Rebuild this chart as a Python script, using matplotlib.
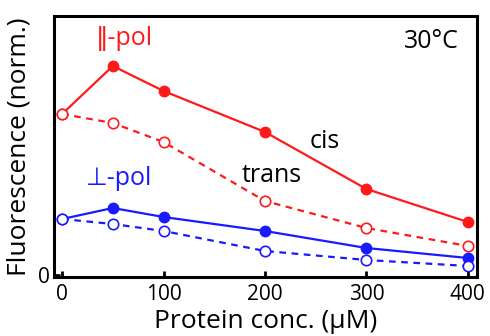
import matplotlib
matplotlib.use("Agg")
import matplotlib.pyplot as plt

plt.rcParams['font.family'] = ['Open Sans', 'DejaVu Sans']

conc = [0, 50, 100, 200, 300, 400]
par_cis = [1.61, 2.09, 1.84, 1.43, 0.86, 0.53]
par_trans = [1.61, 1.52, 1.33, 0.74, 0.47, 0.29]
perp_cis = [0.56, 0.67, 0.58, 0.44, 0.27, 0.17]
perp_trans = [0.56, 0.51, 0.44, 0.24, 0.15, 0.09]

red = '#ff1a1a'
blue = '#1a1aff'

fig = plt.figure(figsize=(4.9, 3.36), dpi=100)
ax = fig.add_axes([54/490, 1-277/336, (477-54)/490, (277-16)/336])

ax.plot(conc, par_cis, '-o', color=red, lw=1.6, ms=7.5, mfc=red, mec=red)
ax.plot(conc, par_trans, '--o', color=red, lw=1.6, ms=7.5, mfc='white', mec=red, mew=1.2, dashes=(3, 2.5))
ax.plot(conc, perp_cis, '-o', color=blue, lw=1.6, ms=7.5, mfc=blue, mec=blue)
ax.plot(conc, perp_trans, '--o', color=blue, lw=1.6, ms=7.5, mfc='white', mec=blue, mew=1.2, dashes=(3, 2.5))

ax.set_xlim(-8, 409)
ax.set_ylim(-0.02, 2.59)
ax.set_xticks([0, 100, 200, 300, 400])
ax.set_yticks([0])
ax.tick_params(direction='in', length=4, width=2, labelsize=15)
ax.tick_params(axis='x', pad=5)
ax.tick_params(axis='y', pad=3)
for s in ax.spines.values():
    s.set_linewidth(2.2)

ax.set_xlabel('Protein conc. (\u03bcM)', fontsize=19, labelpad=3)
ax.set_ylabel('Fluorescence (norm.)', fontsize=19, labelpad=5)

ax.text(33, 2.30, '\u2016-pol', color=red, fontsize=18, ha='left', va='baseline')
ax.text(23, 0.90, '\u22a5-pol', color=blue, fontsize=18, ha='left', va='baseline')
ax.text(391, 2.27, '30\u00b0C', color='black', fontsize=18, ha='right', va='baseline')
ax.text(244, 1.27, 'cis', color='black', fontsize=18, ha='left', va='baseline')
ax.text(177, 0.93, 'trans', color='black', fontsize=18, ha='left', va='baseline')

fig.savefig('out.png', dpi=100)
